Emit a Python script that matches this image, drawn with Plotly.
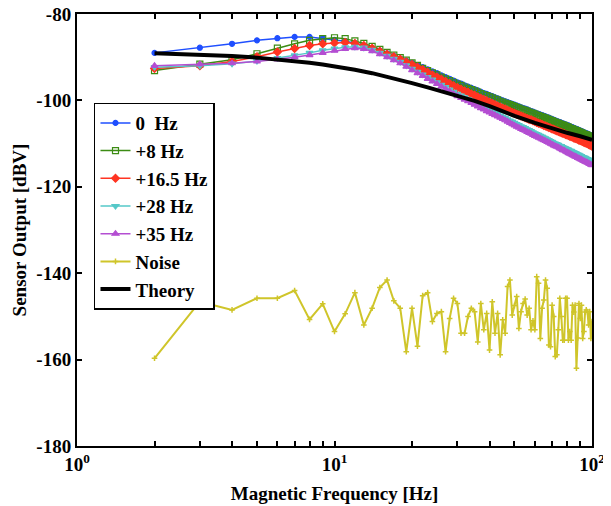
import plotly.graph_objects as go

freq = list(range(2, 101))

hz0 = [-89.0, -87.8, -86.9, -86.1, -85.6, -85.3, -85.3, -85.6, -86.0, -86.3,
       -86.7, -87.3, -87.9, -88.5, -89.1, -89.7, -90.3, -90.8, -91.3, -91.8,
       -92.3, -92.8, -93.3, -93.7, -94.2, -94.6, -95.0, -95.4, -95.8, -96.1,
       -96.5, -96.8, -97.1, -97.4, -97.7, -98.0, -98.3, -98.5, -98.8, -99.0,
       -99.3, -99.5, -99.8, -100.0, -100.2, -100.4, -100.6, -100.8, -101.0, -101.2,
       -101.4, -101.6, -101.8, -101.9, -102.1, -102.3, -102.5, -102.6, -102.8, -103.0,
       -103.1, -103.3, -103.4, -103.6, -103.7, -103.9, -104.0, -104.2, -104.3, -104.5,
       -104.6, -104.8, -104.9, -105.0, -105.2, -105.3, -105.4, -105.6, -105.7, -105.8,
       -106.0, -106.1, -106.2, -106.4, -106.5, -106.6, -106.7, -106.9, -107.0, -107.1,
       -107.2, -107.4, -107.5, -107.6, -107.7, -107.8, -108.0, -108.1, -108.3]

hz8 = [-93.1, -91.6, -90.6, -89.2, -87.9, -86.9, -86.1, -85.7, -85.5, -85.7,
       -86.2, -86.8, -87.5, -88.2, -88.9, -89.5, -90.1, -90.7, -91.3, -91.9,
       -92.6, -93.1, -93.6, -94.1, -94.6, -95.0, -95.4, -95.8, -96.2, -96.5,
       -96.9, -97.2, -97.5, -97.8, -98.1, -98.4, -98.7, -98.9, -99.2, -99.4,
       -99.7, -99.9, -100.2, -100.4, -100.6, -100.8, -101.0, -101.2, -101.4, -101.6,
       -101.8, -102.0, -102.2, -102.3, -102.5, -102.7, -102.9, -103.0, -103.2, -103.4,
       -103.5, -103.7, -103.8, -104.0, -104.1, -104.3, -104.4, -104.6, -104.7, -104.9,
       -105.0, -105.2, -105.3, -105.4, -105.6, -105.7, -105.8, -106.0, -106.1, -106.2,
       -106.4, -106.5, -106.6, -106.8, -106.9, -107.0, -107.1, -107.3, -107.4, -107.5,
       -107.6, -107.8, -107.9, -108.0, -108.1, -108.2, -108.4, -108.5, -108.7]

hz16 = [-92.6, -92.0, -91.0, -89.9, -88.8, -88.0, -87.3, -86.9, -86.7, -86.6,
        -86.8, -87.3, -87.9, -88.6, -89.3, -89.9, -90.5, -91.1, -91.7, -92.3,
        -92.9, -93.5, -94.1, -94.6, -95.1, -95.6, -96.1, -96.6, -97.0, -97.4,
        -97.8, -98.1, -98.5, -98.8, -99.2, -99.5, -99.8, -100.1, -100.4, -100.7,
        -101.0, -101.3, -101.5, -101.8, -102.0, -102.3, -102.5, -102.8, -103.0, -103.2,
        -103.4, -103.6, -103.8, -104.0, -104.2, -104.4, -104.5, -104.7, -104.9, -105.1,
        -105.3, -105.4, -105.6, -105.8, -105.9, -106.1, -106.3, -106.4, -106.6, -106.7,
        -106.9, -107.0, -107.2, -107.3, -107.5, -107.6, -107.7, -107.9, -108.0, -108.1,
        -108.3, -108.4, -108.5, -108.7, -108.8, -108.9, -109.0, -109.2, -109.3, -109.4,
        -109.5, -109.7, -109.8, -109.9, -110.0, -110.2, -110.3, -110.4, -110.6]

hz28 = [-92.3, -92.0, -91.5, -90.9, -90.2, -89.6, -89.0, -88.4, -88.0, -87.7,
        -87.6, -87.8, -88.3, -89.0, -89.7, -90.4, -91.1, -91.9, -92.7, -93.4,
        -94.0, -94.6, -95.2, -95.8, -96.4, -96.9, -97.5, -98.0, -98.5, -98.9,
        -99.3, -99.7, -100.1, -100.5, -100.9, -101.3, -101.6, -102.0, -102.3, -102.6,
        -102.9, -103.2, -103.5, -103.8, -104.1, -104.4, -104.7, -104.9, -105.2, -105.5,
        -105.7, -106.0, -106.2, -106.4, -106.7, -106.9, -107.1, -107.4, -107.6, -107.8,
        -108.0, -108.2, -108.4, -108.6, -108.8, -109.0, -109.2, -109.4, -109.6, -109.8,
        -110.0, -110.1, -110.3, -110.5, -110.6, -110.8, -111.0, -111.1, -111.3, -111.4,
        -111.6, -111.7, -111.9, -112.0, -112.2, -112.3, -112.5, -112.6, -112.8, -112.9,
        -113.1, -113.2, -113.3, -113.5, -113.6, -113.7, -113.9, -114.0, -114.2]

hz35 = [-92.0, -91.6, -91.4, -91.0, -90.5, -90.0, -89.5, -89.0, -88.5, -88.1,
        -87.9, -88.1, -88.6, -89.3, -90.0, -90.7, -91.4, -92.2, -93.0, -93.7,
        -94.3, -95.0, -95.6, -96.2, -96.8, -97.4, -97.9, -98.5, -99.0, -99.4,
        -99.8, -100.2, -100.6, -101.0, -101.4, -101.8, -102.1, -102.5, -102.8, -103.1,
        -103.4, -103.7, -104.0, -104.3, -104.6, -104.9, -105.2, -105.5, -105.8, -106.1,
        -106.3, -106.6, -106.8, -107.0, -107.3, -107.5, -107.7, -108.0, -108.2, -108.4,
        -108.6, -108.8, -109.0, -109.2, -109.4, -109.6, -109.8, -110.0, -110.2, -110.4,
        -110.6, -110.7, -110.9, -111.1, -111.3, -111.5, -111.6, -111.8, -112.0, -112.2,
        -112.3, -112.5, -112.7, -112.8, -113.0, -113.1, -113.3, -113.4, -113.6, -113.7,
        -113.9, -114.0, -114.2, -114.3, -114.4, -114.6, -114.7, -114.9, -115.0]

noise = [-159.7, -146.6, -148.5, -145.8, -145.8, -144.0, -150.7, -147.1, -153.5, -149.4,
         -144.5, -152.0, -148.1, -143.3, -141.6, -146.4, -148.1, -158.2, -148.1, -156.9,
         -145.2, -144.5, -151.2, -149.3, -148.9, -158.2, -150.5, -145.8, -147.0, -153.9,
         -153.9, -150.0, -148.1, -148.9, -155.9, -147.0, -153.1, -149.3, -157.8, -146.6,
         -153.9, -149.3, -158.9, -150.8, -153.9, -143.1, -141.6, -149.7, -147.5, -145.4,
         -152.8, -148.9, -147.0, -146.0, -149.7, -148.1, -153.1, -151.0, -153.1, -140.8,
         -142.3, -155.1, -148.1, -146.2, -141.6, -143.5, -156.6, -157.0, -147.4, -150.0,
         -159.3, -158.9, -153.1, -145.8, -150.0, -155.5, -155.5, -145.8, -145.8, -155.5,
         -153.5, -155.5, -147.4, -149.0, -147.4, -162.0, -155.0, -147.0, -150.5, -147.4,
         -155.1, -153.5, -149.0, -148.5, -148.9, -152.0, -148.9, -155.1, -151.2]

theory_f = [2, 3, 4, 5, 6, 7, 8, 9, 10, 12, 14, 16, 18, 20, 23, 26, 30, 35, 40, 45,
            50, 60, 70, 80, 90, 100]
theory = [-89.1, -89.4, -89.7, -90.1, -90.5, -90.9, -91.3, -91.7, -92.1, -92.9,
          -93.7, -94.5, -95.3, -96.0, -97.0, -97.9, -98.9, -100.1, -101.3, -102.5,
          -103.6, -105.2, -106.5, -107.5, -108.3, -109.1]

names = ["0  Hz", "+8 Hz", "+16.5 Hz", "+28 Hz", "+35 Hz"]
colors = ["#1f4fff", "#3c8c14", "#ff3422", "#55c8c8", "#b44ed2"]
symbols = ["circle", "square-open", "diamond", "triangle-down", "triangle-up"]
sizes = [5, 6, 6, 6, 6]
series = [hz0, hz8, hz16, hz28, hz35]

yt = [-180, -160, -140, -120, -100, -80]
ytext = ["-180", "-160", "-140", "-120", "-100", "-80"]
xt = [1, 2, 3, 4, 5, 6, 7, 8, 9, 10, 20, 30, 40, 50, 60, 70, 80, 90, 100]
xtext = ["10<sup>0</sup>" if v == 1 else "10<sup>1</sup>" if v == 10 else
         "10<sup>2</sup>" if v == 100 else "" for v in xt]

font_family = "Liberation Serif, Times New Roman, serif"

fig = go.Figure()
for name, col, sym, sz, ys in zip(names, colors, symbols, sizes, series):
    fig.add_trace(go.Scatter(
        x=freq, y=ys, name=name, mode="lines+markers",
        line=dict(color=col, width=1.5),
        marker=dict(symbol=sym, size=sz, color=col, line=dict(color=col, width=1.2)),
    ))

fig.add_trace(go.Scatter(
    x=freq, y=noise, name="Noise", mode="lines+markers",
    line=dict(color="#cfc52a", width=2),
    marker=dict(symbol="cross-thin", size=4, color="#cfc52a",
                line=dict(color="#cfc52a", width=1.5)),
))
fig.add_trace(go.Scatter(
    x=theory_f, y=theory, name="Theory", mode="lines",
    line=dict(color="black", width=4),
))

# page body has an 8px margin, so the figure is drawn from (8, 8)
fig.update_layout(
    width=603, height=498,
    margin=dict(l=69, r=19, t=6, b=60),
    paper_bgcolor="white", plot_bgcolor="white",
    font=dict(family=font_family, size=19, color="black", weight="bold"),
    showlegend=True,
    legend=dict(
        x=0.033, y=0.795, xanchor="left", yanchor="top",
        bordercolor="black", borderwidth=1.5, bgcolor="white",
        font=dict(family=font_family, size=19, color="black", weight="bold"),
        itemwidth=30, tracegroupgap=0,
    ),
    xaxis=dict(
        type="log", range=[0, 2], automargin=False,
        tickvals=xt, ticktext=xtext, ticklabeloverflow="allow",
        ticks="inside", ticklen=5, tickwidth=1.5, tickcolor="black",
        showline=True, linecolor="black", linewidth=2, mirror="ticks",
        showgrid=False, zeroline=False,
        title=dict(text="Magnetic Frequency [Hz]", standoff=13,
                   font=dict(family=font_family, size=19, weight="bold")),
        tickfont=dict(family=font_family, size=19, weight="bold"),
    ),
    yaxis=dict(
        range=[-180, -80], automargin=False,
        tickvals=yt, ticktext=ytext, ticklabeloverflow="allow",
        ticks="inside", ticklen=5, tickwidth=1.5, tickcolor="black",
        showline=True, linecolor="black", linewidth=2, mirror="ticks",
        showgrid=False, zeroline=False,
        title=dict(text="Sensor Output [dBV]", standoff=5,
                   font=dict(family=font_family, size=19, weight="bold")),
        tickfont=dict(family=font_family, size=19, weight="bold"),
    ),
)

fig.write_html("out.html")
